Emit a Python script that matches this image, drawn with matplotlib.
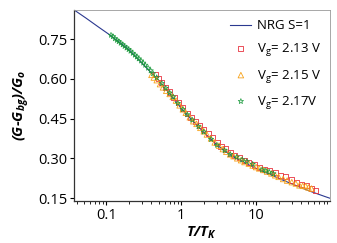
import numpy as np
import matplotlib
matplotlib.use("Agg")
import matplotlib.pyplot as plt
from matplotlib.ticker import LogLocator, NullFormatter

plt.rcParams["font.family"] = ["Open Sans", "DejaVu Sans"]

# NRG S=1 curve
nrg_x = [0.037, 0.05, 0.07, 0.1, 0.15, 0.2, 0.3, 0.4, 0.5, 0.7, 1.0, 1.5, 2.0,
         3.0, 5.0, 7.0, 10, 15, 20, 30, 50, 70, 100]
nrg_y = [0.860, 0.835, 0.805, 0.775, 0.738, 0.710, 0.658, 0.622, 0.594, 0.545,
         0.488, 0.435, 0.398, 0.350, 0.305, 0.283, 0.262, 0.240, 0.224, 0.204,
         0.178, 0.163, 0.148]

# Vg = 2.13 V
red_x = [0.45, 0.5, 0.55, 0.62, 0.7, 0.8, 0.92, 1.05, 1.2, 1.35, 1.55, 1.75, 2.0,
         2.3, 2.6, 3.0, 3.4, 3.9, 4.5, 5.2, 6.0, 7, 8, 9.5, 11, 13, 15, 18, 21,
         25, 30, 35, 40, 47, 55, 63]
red_y = [0.615, 0.600, 0.585, 0.567, 0.550, 0.530, 0.510, 0.490, 0.470, 0.455,
         0.440, 0.425, 0.408, 0.395, 0.380, 0.360, 0.345, 0.335, 0.320, 0.310,
         0.302, 0.293, 0.285, 0.275, 0.265, 0.258, 0.252, 0.245, 0.236, 0.232,
         0.218, 0.210, 0.200, 0.196, 0.186, 0.180]

# Vg = 2.15 V
orn_x = [0.4, 0.43, 0.47, 0.52, 0.57, 0.63, 0.7, 0.77, 0.85, 0.95, 1.05, 1.15,
         1.3, 1.45, 1.6, 1.8, 2.0, 2.2, 2.5, 2.8, 3.2, 3.6, 4.0, 4.5, 5, 5.6,
         6.3, 7, 8, 9, 10, 11, 12.5, 14, 16, 18, 20, 23, 26, 30, 34, 38, 42, 46,
         50, 55]
orn_y = [0.615, 0.605, 0.595, 0.580, 0.568, 0.555, 0.543, 0.532, 0.518, 0.500,
         0.485, 0.472, 0.455, 0.440, 0.430, 0.415, 0.402, 0.390, 0.375, 0.360,
         0.348, 0.335, 0.325, 0.315, 0.308, 0.300, 0.293, 0.286, 0.280, 0.273,
         0.267, 0.262, 0.256, 0.250, 0.243, 0.236, 0.230, 0.222, 0.216, 0.210,
         0.205, 0.198, 0.196, 0.195, 0.190, 0.186]

# Vg = 2.17 V
grn_x = [0.115, 0.122, 0.13, 0.138, 0.146, 0.155, 0.165, 0.175, 0.186, 0.198,
         0.21, 0.225, 0.24, 0.255, 0.27, 0.29, 0.31, 0.33, 0.36, 0.39, 0.42,
         0.47, 0.55, 0.62, 0.7, 0.78, 0.9, 1.05, 1.2, 1.4, 1.7, 2.0, 2.5, 3.0,
         3.8, 4.5, 5.5, 6.5, 7.5, 9, 12, 13.5, 15, 17]
grn_y = [0.765, 0.760, 0.752, 0.746, 0.741, 0.735, 0.729, 0.723, 0.717, 0.711,
         0.705, 0.697, 0.690, 0.683, 0.676, 0.668, 0.660, 0.652, 0.641, 0.631,
         0.620, 0.605, 0.583, 0.565, 0.547, 0.532, 0.508, 0.485, 0.465, 0.445,
         0.420, 0.400, 0.372, 0.350, 0.330, 0.315, 0.305, 0.295, 0.288, 0.278,
         0.257, 0.253, 0.248, 0.242]

fig = plt.figure(figsize=(3.37, 2.43), dpi=100)
ax = fig.add_axes([0.22, 0.173, 0.759, 0.786])

xs = np.logspace(np.log10(nrg_x[0]), np.log10(nrg_x[-1]), 300)
ys = np.interp(np.log10(xs), np.log10(nrg_x), nrg_y)
ax.plot(xs, ys, color="#2b3990", lw=0.8, label="NRG S=1", zorder=1)
ax.scatter(red_x, red_y, s=14, marker="s", facecolor="none", edgecolor="#e8333f",
           lw=0.6, label="V$_\\mathregular{g}$= 2.13 V", zorder=2)
ax.scatter(orn_x, orn_y, s=16, marker="^", facecolor="none", edgecolor="#f7a21b",
           lw=0.6, label="V$_\\mathregular{g}$= 2.15 V", zorder=3)
ax.scatter(grn_x, grn_y, s=16, marker="*", facecolor="none", edgecolor="#1a9a3c",
           lw=0.5, label="V$_\\mathregular{g}$= 2.17V", zorder=4)

ax.set_xscale("log")
ax.set_xlim(0.037, 97)
ax.set_ylim(0.139, 0.86)
ax.set_xticks([0.1, 1, 10])
ax.set_xticklabels(["0.1", "1", "10"])
ax.xaxis.set_minor_locator(LogLocator(base=10, subs=np.arange(2, 10)))
ax.xaxis.set_minor_formatter(NullFormatter())
ax.set_yticks([0.15, 0.30, 0.45, 0.60, 0.75])
ax.set_yticklabels(["0.15", "0.30", "0.45", "0.60", "0.75"])
ax.tick_params(axis="both", labelsize=10.5, direction="out", length=3, width=0.8,
               pad=2, top=False, right=False)
ax.tick_params(axis="x", which="minor", length=2, width=0.6)
for s in ("top", "right"):
    ax.spines[s].set_color("#999999")
    ax.spines[s].set_linewidth(0.6)
for s in ("left", "bottom"):
    ax.spines[s].set_color("#333333")
    ax.spines[s].set_linewidth(0.9)

ax.set_xlabel("T/T$_\\mathregular{K}$", fontsize=10.5, fontweight="bold",
              fontstyle="italic", labelpad=1)
ax.set_ylabel("(G-G$_\\mathregular{bg}$)/G$_\\mathregular{o}$", fontsize=10.5,
              fontweight="bold", fontstyle="italic", labelpad=4)

ax.legend(loc="upper right", frameon=False, fontsize=9.5, handlelength=1.6,
          handletextpad=0.4, labelspacing=0.7, borderaxespad=0.3,
          markerscale=1.0)

fig.savefig("out.png", dpi=100)
